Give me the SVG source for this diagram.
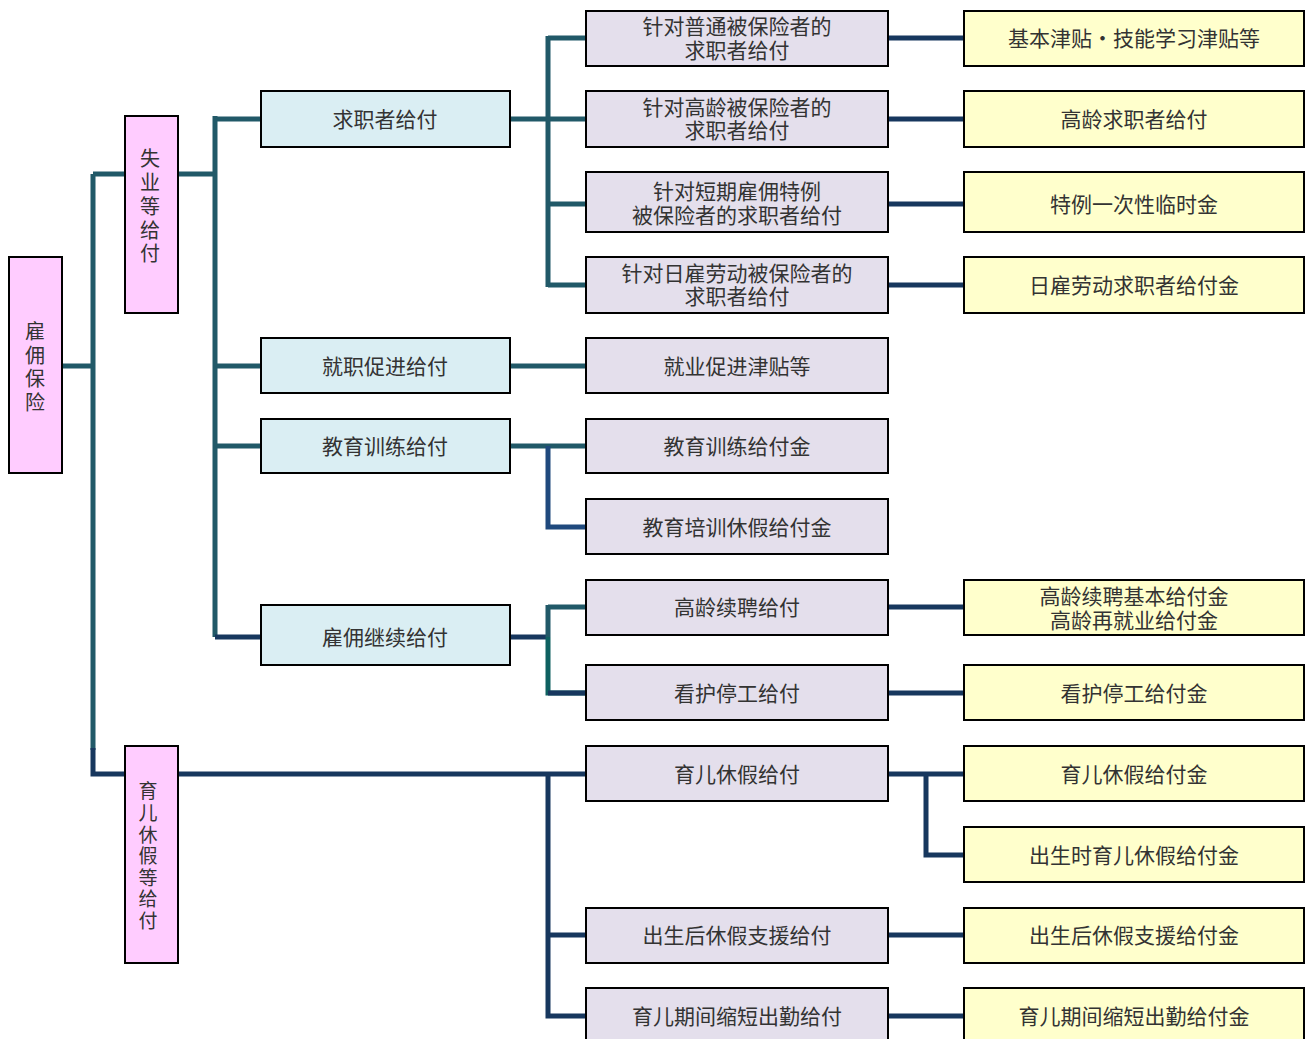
<svg xmlns="http://www.w3.org/2000/svg" width="1307" height="1039" viewBox="0 0 1307 1039">
<style>
text{font-family:"Noto Sans CJK SC","Noto Sans CJK JP",sans-serif;font-size:21px;fill:#333;text-anchor:middle;dominant-baseline:central}
.v text{font-size:20px}
.vs text{font-size:19px}
.p,.b,.l,.y{stroke:#000;stroke-width:2}
.p{fill:#FFCCFF}.b{fill:#DAEEF3}.l{fill:#E4DFEC}.y{fill:#FFFFCC}
.t{stroke:#215968;stroke-width:5;fill:none}
.n{stroke:#17375E;stroke-width:5;fill:none}
.u{stroke:#1F497D;stroke-width:5;fill:none}
</style>
<rect width="1307" height="1039" fill="#fff"/>
<g id="connectors">
<path class="t" d="M62 366H93M93 174V750M93 174H125"/>
<path class="n" d="M93 748V774H125"/>
<path class="t" d="M178 174H215M215 116V637M215 119H261M215 366H261M215 446H261"/>
<path class="n" d="M215 637H261"/>
<path class="t" d="M510 119H586M548 36V287M548 38H586M548 204H586M548 285H586"/>
<path class="t" d="M510 366H586"/>
<path class="t" d="M510 446H586"/>
<path class="u" d="M548 446V527H586"/>
<path class="n" d="M510 637H548"/>
<path class="t" d="M548 605V637M548 607H586"/>
<path class="n" d="M548 637V693H586" style="stroke:#0E6060"/>
<path class="n" d="M548 693H586"/>
<path class="n" d="M178 774H586M548 774V1016H586M548 935H586"/>
<path class="n" d="M888 38H964M888 119H964M888 204H964M888 285H964M888 607H964M888 693H964M888 774H964M926 774V855H964M888 935H964M888 1016H964"/>
</g>
<g id="n_koyo" class="v"><rect class="p" x="9" y="257" width="53" height="216"/><text x="35" y="330">雇</text><text x="35" y="354">佣</text><text x="35" y="377">保</text><text x="35" y="401">险</text></g>
<g id="n_shitsugyo" class="v"><rect class="p" x="125" y="116" width="53" height="197"/><text x="150" y="157">失</text><text x="150" y="181">业</text><text x="150" y="205">等</text><text x="150" y="229">给</text><text x="150" y="252">付</text></g>
<g id="n_ikuji" class="vs"><rect class="p" x="125" y="746" width="53" height="217"/><text x="148" y="789">育</text><text x="148" y="811">儿</text><text x="148" y="833">休</text><text x="148" y="854">假</text><text x="148" y="876">等</text><text x="148" y="897">给</text><text x="148" y="919">付</text></g>
<g id="n_kyushoku"><rect class="b" x="261" y="91" width="249" height="56"/><text x="385" y="118">求职者给付</text></g>
<g id="n_shushoku"><rect class="b" x="261" y="338" width="249" height="55"/><text x="385" y="365">就职促进给付</text></g>
<g id="n_kyoiku"><rect class="b" x="261" y="419" width="249" height="54"/><text x="385" y="445">教育训练给付</text></g>
<g id="n_keizoku"><rect class="b" x="261" y="605" width="249" height="60"/><text x="385" y="636">雇佣继续给付</text></g>
<g id="n_c2_1"><rect class="l" x="586" y="11" width="302" height="55"/><text x="737" y="25">针对普通被保险者的</text><text x="737" y="49">求职者给付</text></g>
<g id="n_c2_2"><rect class="l" x="586" y="91" width="302" height="56"/><text x="737" y="106">针对高龄被保险者的</text><text x="737" y="129">求职者给付</text></g>
<g id="n_c2_3"><rect class="l" x="586" y="172" width="302" height="60"/><text x="737" y="190">针对短期雇佣特例</text><text x="737" y="214">被保险者的求职者给付</text></g>
<g id="n_c2_4"><rect class="l" x="586" y="257" width="302" height="56"/><text x="737" y="272">针对日雇劳动被保险者的</text><text x="737" y="295">求职者给付</text></g>
<g id="n_c2_5"><rect class="l" x="586" y="338" width="302" height="55"/><text x="737" y="365">就业促进津贴等</text></g>
<g id="n_c2_6"><rect class="l" x="586" y="419" width="302" height="54"/><text x="737" y="445">教育训练给付金</text></g>
<g id="n_c2_7"><rect class="l" x="586" y="499" width="302" height="55"/><text x="737" y="526">教育培训休假给付金</text></g>
<g id="n_c2_8"><rect class="l" x="586" y="580" width="302" height="55"/><text x="737" y="606">高龄续聘给付</text></g>
<g id="n_c2_9"><rect class="l" x="586" y="665" width="302" height="55"/><text x="737" y="692">看护停工给付</text></g>
<g id="n_c2_10"><rect class="l" x="586" y="746" width="302" height="55"/><text x="737" y="773">育儿休假给付</text></g>
<g id="n_c2_11"><rect class="l" x="586" y="908" width="302" height="55"/><text x="737" y="934">出生后休假支援给付</text></g>
<g id="n_c2_12"><rect class="l" x="586" y="988" width="302" height="60"/><text x="737" y="1015">育儿期间缩短出勤给付</text></g>
<g id="n_c3_1"><rect class="y" x="964" y="11" width="340" height="55"/><text x="1134" y="37">基本津贴・技能学习津贴等</text></g>
<g id="n_c3_2"><rect class="y" x="964" y="91" width="340" height="56"/><text x="1134" y="118">高龄求职者给付</text></g>
<g id="n_c3_3"><rect class="y" x="964" y="172" width="340" height="60"/><text x="1134" y="203">特例一次性临时金</text></g>
<g id="n_c3_4"><rect class="y" x="964" y="257" width="340" height="56"/><text x="1134" y="284">日雇劳动求职者给付金</text></g>
<g id="n_c3_5"><rect class="y" x="964" y="580" width="340" height="55"/><text x="1134" y="595">高龄续聘基本给付金</text><text x="1134" y="619">高龄再就业给付金</text></g>
<g id="n_c3_6"><rect class="y" x="964" y="665" width="340" height="55"/><text x="1134" y="692">看护停工给付金</text></g>
<g id="n_c3_7"><rect class="y" x="964" y="746" width="340" height="55"/><text x="1134" y="773">育儿休假给付金</text></g>
<g id="n_c3_8"><rect class="y" x="964" y="827" width="340" height="55"/><text x="1134" y="854">出生时育儿休假给付金</text></g>
<g id="n_c3_9"><rect class="y" x="964" y="908" width="340" height="55"/><text x="1134" y="934">出生后休假支援给付金</text></g>
<g id="n_c3_10"><rect class="y" x="964" y="988" width="340" height="60"/><text x="1134" y="1015">育儿期间缩短出勤给付金</text></g>
</svg>
